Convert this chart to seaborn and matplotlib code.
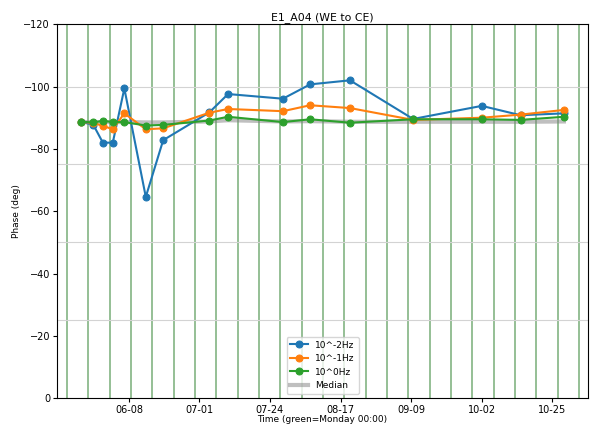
import pandas as pd
import numpy as np
import matplotlib
matplotlib.use('Agg')
import matplotlib.pyplot as plt
import seaborn as sns

times = ['2025-05-23 16:00', '2025-05-27 16:00', '2025-05-30 19:00', '2025-06-03 01:00',
         '2025-06-06 20:00', '2025-06-13 21:00', '2025-06-19 14:00', '2025-07-04 17:00',
         '2025-07-10 21:00', '2025-07-28 21:00', '2025-08-06 19:00', '2025-08-19 21:00',
         '2025-09-09 14:00', '2025-10-02 03:00', '2025-10-14 21:00', '2025-10-29 02:00']
phase_1e_2 = [-88.7, -87.7, -82.0, -82.0, -99.4, -64.6, -82.8, -91.7,
              -97.6, -96.1, -100.7, -102.0, -89.6, -93.8, -90.8, -91.4]
phase_1e_1 = [-88.7, -88.3, -87.4, -86.3, -91.4, -86.3, -86.6, -91.6,
              -92.8, -92.1, -94.0, -93.1, -89.3, -90.0, -91.0, -92.5]
phase_1e0 = [-88.7, -88.5, -89.0, -88.6, -88.6, -87.5, -87.7, -89.1,
             -90.3, -88.6, -89.5, -88.4, -89.5, -89.5, -89.3, -90.3]
median = [-88.6, -88.6, -88.6, -88.6, -88.6, -88.5, -88.5, -88.8,
          -89.2, -88.8, -88.9, -88.7, -88.7, -88.7, -88.7, -88.8]
series_labels = ['10^-2Hz', '10^-1Hz', '10^0Hz']

tick_labels = ['06-08', '07-01', '07-24', '08-17', '09-09', '10-02', '10-25']
first_tick = '2025-06-08 08:00'
mondays = pd.date_range('2025-05-19', '2025-11-03', freq='7D')
hlines = [-100, -75, -50, -25]

t = pd.to_datetime(times)
df = pd.DataFrame({'time': t, 'm2': phase_1e_2, 'm1': phase_1e_1, 'p0': phase_1e0, 'med': median})

fig = plt.figure(figsize=(5.94, 4.25), dpi=100)
ax = fig.add_axes([0.096, 0.063, 0.894, 0.88])

colors = sns.color_palette('tab10')
for col, lab, c in zip(['m2', 'm1', 'p0'], series_labels, colors):
    sns.lineplot(data=df, x='time', y=col, ax=ax, color=c, marker='o', markersize=5,
                 markeredgecolor=c, lw=1.5, label=lab, zorder=3)
sns.lineplot(data=df, x='time', y='med', ax=ax, color='gray', lw=3, alpha=0.5,
             label='Median', zorder=2)
xlim = ax.get_xlim()  # keep auto limits, monday lines must not widen them

for d in mondays:
    ax.axvline(d, color='#78ad78', lw=1.1, zorder=1)
for h in hlines:
    ax.axhline(h, color='lightgray', lw=0.8, zorder=1)
ax.set_xlim(xlim)

ax.set_ylim(0, -120)
ax.set_yticks(np.arange(0, -121, -20))
ticks = pd.date_range(first_tick, periods=len(tick_labels), freq='2000000s')
ax.set_xticks(ticks)
ax.set_xticklabels(tick_labels)
ax.tick_params(labelsize=7, length=3, pad=2)
ax.set_title('E1_A04 (WE to CE)', fontsize=7.8, pad=3)
ax.set_xlabel('Time (green=Monday 00:00)', fontsize=6.5, labelpad=0)
ax.set_ylabel('Phase (deg)', fontsize=6.5, labelpad=2)
ax.legend(loc='lower center', fontsize=6.5)

plt.savefig('out.png', dpi=100)
